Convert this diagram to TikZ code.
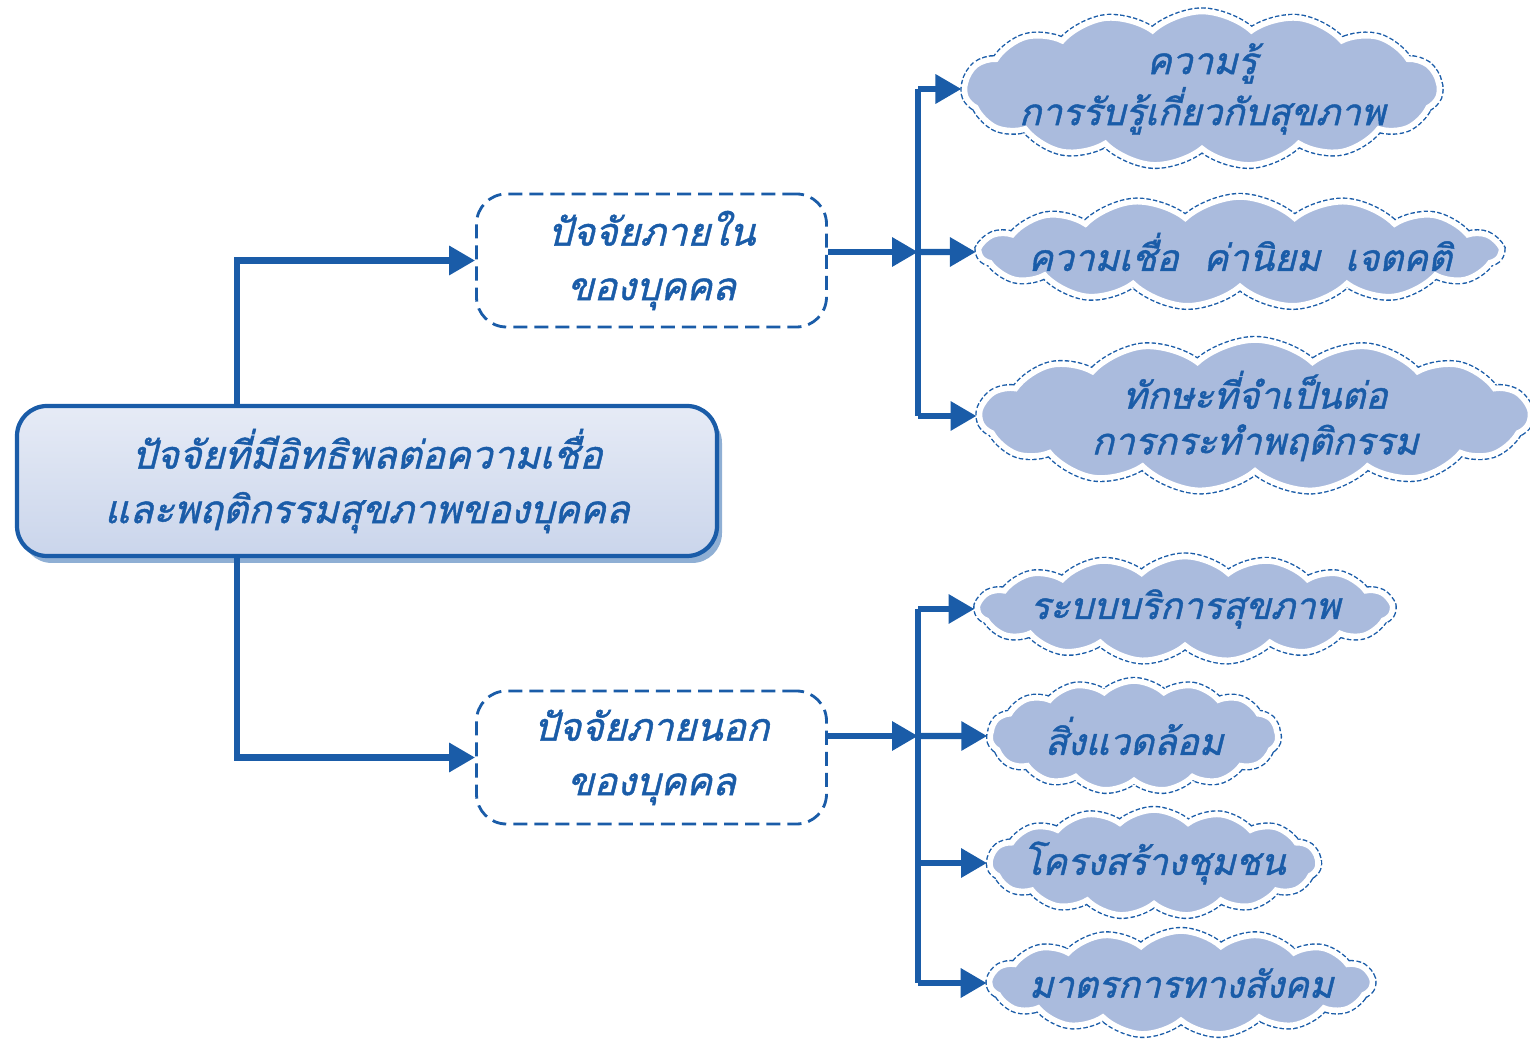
\documentclass[tikz,border=0pt]{standalone}
\usepackage{fontspec}
\newfontfamily\thaifont[Script=Thai,FakeSlant=0.25,FakeBold=1.2]{Loma}
\usetikzlibrary{arrows.meta,shapes.symbols,shadows}
\definecolor{cblue}{HTML}{1A5CA8}
\definecolor{cloudfill}{HTML}{AABBDD}
\definecolor{boxtop}{HTML}{E6EBF6}
\definecolor{boxbot}{HTML}{CAD5EB}
\begin{document}
\begin{tikzpicture}[
    txt/.style={text=cblue,align=center,font=\thaifont\fontsize{11}{15.5}\selectfont},
    mainbox/.style={txt,rounded corners=0.3cm,draw=cblue,line width=1.2pt,
      top color=boxtop,bottom color=boxbot,minimum width=7.0cm,minimum height=1.5cm,
      drop shadow={shadow xshift=0.5mm,shadow yshift=-0.7mm,fill=cblue!70,opacity=0.7}},
    factor/.style={txt,rounded corners=0.3cm,draw=cblue,line width=0.8pt,
      dash pattern=on 4pt off 2pt,minimum width=3.5cm,minimum height=1.33cm},
    puff/.style={cloud,cloud puffs=15,cloud puff arc=85,cloud ignores aspect,
      fill=cloudfill,draw=white,line width=1.6pt,inner sep=0pt,
      preaction={draw=cblue,line width=2.4pt,dash pattern=on 1.2pt off 0.6pt}},
    pufftext/.style={txt,font=\thaifont\fontsize{10.5}{13}\selectfont},
    arr/.style={draw=cblue,line width=1.8pt,-{Triangle[length=2.6mm,width=2.8mm]}},
    bar/.style={draw=cblue,line width=1.8pt}
  ]
  \useasboundingbox (0,0) rectangle (15.3,10.39);

  \node[mainbox] (main) at (3.67,5.58) {ปัจจัยที่มีอิทธิพลต่อความเชื่อ\\และพฤติกรรมสุขภาพของบุคคล};

  \node[factor] (inner) at (6.515,7.785) {ปัจจัยภายใน\\ของบุคคล};
  \node[factor] (outer) at (6.515,2.815) {ปัจจัยภายนอก\\ของบุคคล};

  % clouds, internal factors
  \node[puff,minimum width=4.75cm,minimum height=1.55cm,
    label={[pufftext]center:{ความรู้\\การรับรู้เกี่ยวกับสุขภาพ}}] (know) at (12.02,9.50) {};
  \node[puff,minimum width=5.2cm,minimum height=1.1cm,
    label={[pufftext]center:{ความเชื่อ\ \ ค่านิยม\ \ เจตคติ}}] (belief) at (12.40,7.87) {};
  \node[puff,minimum width=5.5cm,minimum height=1.52cm,
    label={[pufftext]center:{ทักษะที่จำเป็นต่อ\\การกระทำพฤติกรรม}}] (skill) at (12.55,6.23) {};

  % clouds, external factors
  \node[puff,minimum width=4.14cm,minimum height=1.05cm,
    label={[pufftext]center:ระบบบริการสุขภาพ}] (service) at (11.85,4.30) {};
  \node[puff,minimum width=2.88cm,minimum height=1.1cm,
    label={[pufftext]center:สิ่งแวดล้อม}] (env) at (11.34,3.03) {};
  \node[puff,minimum width=3.28cm,minimum height=1.06cm,
    label={[pufftext]center:โครงสร้างชุมชน}] (comm) at (11.54,1.76) {};
  \node[puff,minimum width=3.82cm,minimum height=1.04cm,
    label={[pufftext]center:มาตรการทางสังคม}] (social) at (11.81,0.56) {};

  \coordinate (hubA) at (9.18,7.87);
  \coordinate (hubB) at (9.18,3.03);

  \draw[arr] ([xshift=-13mm]main.north) |- (inner.west);
  \draw[arr] ([xshift=-13mm]main.south) |- (outer.west);

  \draw[arr] (inner.east |- hubA) -- (hubA);
  \draw[bar] (hubA |- know.west) -- (hubA |- skill.west);
  \draw[arr] (hubA |- know.west) -- (know.west);
  \draw[arr] (hubA) -- (belief.west);
  \draw[arr] (hubA |- skill.west) -- (skill.west);

  \draw[arr] (outer.east |- hubB) -- (hubB);
  \draw[bar] (hubB |- service.west) -- (hubB |- social.west);
  \draw[arr] (hubB |- service.west) -- (service.west);
  \draw[arr] (hubB) -- (env.west);
  \draw[arr] (hubB |- comm.west) -- (comm.west);
  \draw[arr] (hubB |- social.west) -- (social.west);
\end{tikzpicture}
\end{document}
